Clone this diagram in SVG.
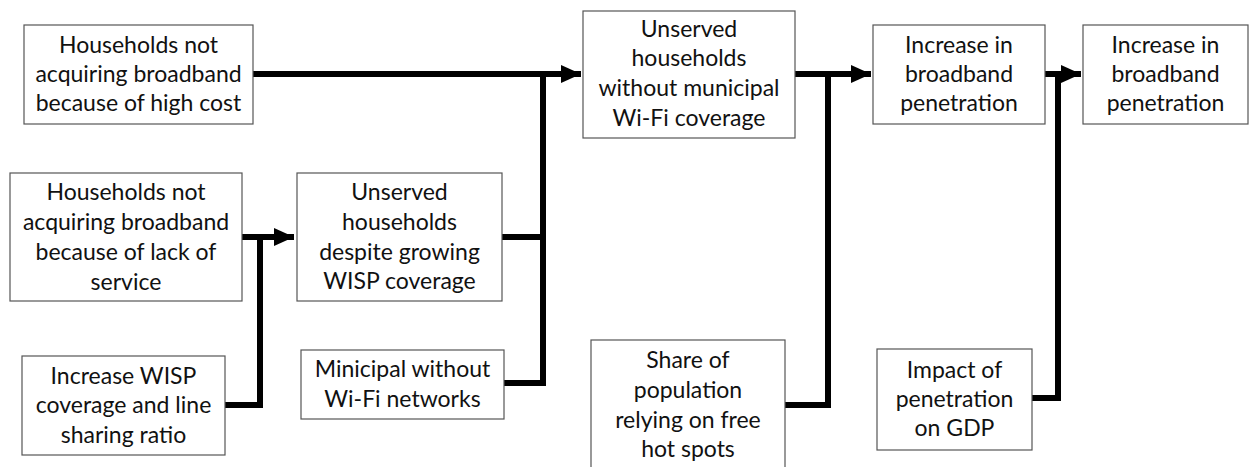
<svg xmlns="http://www.w3.org/2000/svg" width="1249" height="467" viewBox="0 0 1249 467">
  <style>
    .box { fill: #ffffff; stroke: #555555; stroke-width: 1.2; }
    .lbl { font-family: Lato, "Liberation Sans", sans-serif; font-size: 23px; fill: #111111; text-anchor: middle; dominant-baseline: central; }
    .wire { fill: none; stroke: #000000; stroke-width: 6; stroke-linejoin: miter; stroke-linecap: butt; }
  </style>
  <defs>
    <marker id="arrow" markerUnits="userSpaceOnUse" markerWidth="20" markerHeight="20" viewBox="0 0 20 20" refX="20" refY="10" orient="auto">
      <path d="M0,1 L20,10 L0,19 Z" fill="#000000"/>
    </marker>
  </defs>
  <rect width="1249" height="467" fill="#ffffff"/>

  <g id="connectors">
    <!-- high cost + WISP + municipal feeds into unserved without municipal Wi-Fi -->
    <path class="wire" d="M253,74 H581" marker-end="url(#arrow)"/>
    <path class="wire" d="M502,237 H543 M504,383 H543 M543,71 V386"/>
    <!-- lack of service + WISP coverage feeds into unserved despite WISP -->
    <path class="wire" d="M242,237 H294" marker-end="url(#arrow)"/>
    <path class="wire" d="M225,405 H260 V234"/>
    <!-- unserved + free hot spots feeds into penetration -->
    <path class="wire" d="M795,74 H871" marker-end="url(#arrow)"/>
    <path class="wire" d="M785,405 H828 V71"/>
    <!-- penetration + GDP impact -->
    <path class="wire" d="M1045,74 H1081" marker-end="url(#arrow)"/>
    <path class="wire" d="M1032,398 H1058 V71"/>
  </g>

  <g id="n-high-cost">
    <rect class="box" x="24" y="25" width="229" height="99"/>
    <text class="lbl" x="138.5" y="44">Households not</text>
    <text class="lbl" x="138.5" y="73">acquiring broadband</text>
    <text class="lbl" x="138.5" y="102">because of high cost</text>
  </g>

  <g id="n-lack-service">
    <rect class="box" x="10" y="173" width="232" height="128"/>
    <text class="lbl" x="126" y="191">Households not</text>
    <text class="lbl" x="126" y="221">acquiring broadband</text>
    <text class="lbl" x="126" y="251">because of lack of</text>
    <text class="lbl" x="126" y="281">service</text>
  </g>

  <g id="n-wisp-increase">
    <rect class="box" x="22" y="356" width="203" height="99"/>
    <text class="lbl" x="123.5" y="375">Increase WISP</text>
    <text class="lbl" x="123.5" y="404">coverage and line</text>
    <text class="lbl" x="123.5" y="434">sharing ratio</text>
  </g>

  <g id="n-unserved-wisp">
    <rect class="box" x="297" y="173" width="205" height="128"/>
    <text class="lbl" x="399.5" y="191">Unserved</text>
    <text class="lbl" x="399.5" y="221">households</text>
    <text class="lbl" x="399.5" y="251">despite growing</text>
    <text class="lbl" x="399.5" y="280">WISP coverage</text>
  </g>

  <g id="n-municipal">
    <rect class="box" x="301" y="350" width="203" height="69"/>
    <text class="lbl" x="402.5" y="368">Minicipal without</text>
    <text class="lbl" x="402.5" y="398">Wi-Fi networks</text>
  </g>

  <g id="n-unserved-municipal">
    <rect class="box" x="583" y="11" width="212" height="127"/>
    <text class="lbl" x="689" y="28">Unserved</text>
    <text class="lbl" x="689" y="57">households</text>
    <text class="lbl" x="689" y="87">without municipal</text>
    <text class="lbl" x="689" y="117">Wi-Fi coverage</text>
  </g>

  <g id="n-hot-spots">
    <rect class="box" x="591" y="340" width="194" height="130"/>
    <text class="lbl" x="688" y="359">Share of</text>
    <text class="lbl" x="688" y="389">population</text>
    <text class="lbl" x="688" y="419">relying on free</text>
    <text class="lbl" x="688" y="448">hot spots</text>
  </g>

  <g id="n-penetration">
    <rect class="box" x="873" y="25" width="172" height="99"/>
    <text class="lbl" x="959" y="44">Increase in</text>
    <text class="lbl" x="959" y="73">broadband</text>
    <text class="lbl" x="959" y="102">penetration</text>
  </g>

  <g id="n-gdp">
    <rect class="box" x="877" y="349" width="155" height="101"/>
    <text class="lbl" x="954.5" y="369">Impact of</text>
    <text class="lbl" x="954.5" y="398">penetration</text>
    <text class="lbl" x="954.5" y="427">on GDP</text>
  </g>

  <g id="n-penetration-2">
    <rect class="box" x="1083" y="25" width="165" height="99"/>
    <text class="lbl" x="1165.5" y="44">Increase in</text>
    <text class="lbl" x="1165.5" y="73">broadband</text>
    <text class="lbl" x="1165.5" y="102">penetration</text>
  </g>
</svg>
